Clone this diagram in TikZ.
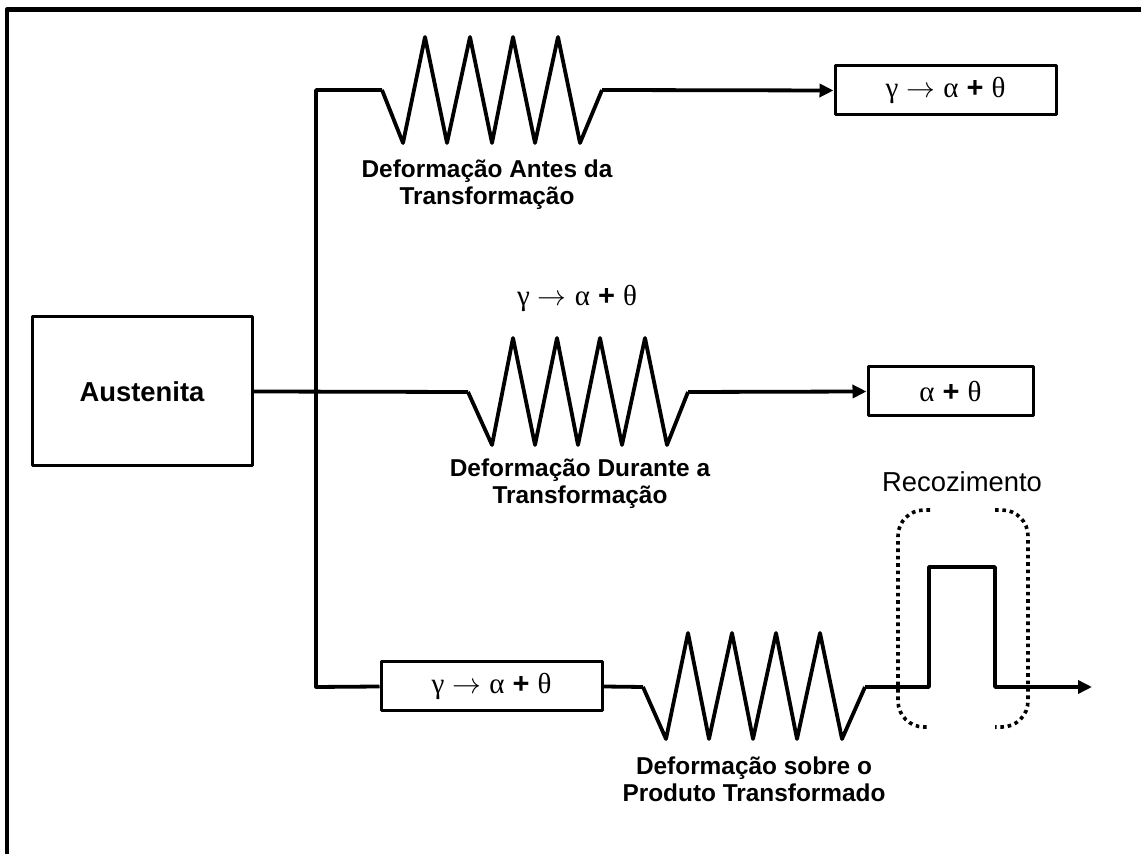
\documentclass[tikz,border=0pt]{standalone}
\usepackage{fontspec}
\setmainfont{Liberation Sans}
\newfontfamily\grkfont{Liberation Serif}
\usetikzlibrary{arrows.meta}
\newcommand{\reac}{{\grkfont γ} $\rightarrow$ {\grkfont α} \textbf{+} {\grkfont θ}}
\tikzset{
  wire/.style={line width=1.9pt},
  frame/.style={line width=2.2pt},
  dots/.style={line width=1.8pt, dash pattern=on 1.8pt off 1.9pt, rounded corners=13pt},
  tbox/.style={draw, line width=1.5pt, minimum height=24.5pt, inner sep=0pt, font=\fontsize{14.5}{16}\selectfont},
  lbl/.style={font=\fontsize{12.2}{13.5}\selectfont\bfseries, align=center, inner sep=0pt},
}
\begin{document}
\begin{tikzpicture}[x=0.5pt, y=-0.5pt, line join=round, >={Triangle[length=7pt,width=6.5pt]}]
    \useasboundingbox (0,0) rectangle (1141,854);
    \draw[frame] (7,854) -- (7,9.5) -- (1141,9.5);
    % caixas
    \node[draw, line width=1.5pt, minimum width=110pt, minimum height=74.5pt,
          font=\fontsize{13.7}{16}\selectfont\bfseries] (aus) at (142,391.5) {Austenita};
    \node[tbox, minimum width=110.5pt] (topbox) at (945.5,90.5) {\reac};
    \node[tbox, minimum width=82.5pt] (midbox) at (950.5,391.5) {{\grkfont α} \textbf{+} {\grkfont θ}};
    \node[tbox, minimum width=110.5pt] (lowbox) at (491.5,686.5) {\reac};
    % textos
    \node[lbl] (toplbl) at (487,184.5) {Deformação Antes da\\Transformação};
    \node[lbl] (midlbl) at (580,484) {Deformação Durante a\\Transformação};
    \node[lbl] (lowlbl) at (754,779.5) {Deformação sobre o\\Produto Transformado};
    \node[inner sep=0pt, font=\fontsize{14.5}{16}\selectfont] (midreac) at (577,298) {\reac};
    \node[inner sep=0pt, font=\fontsize{13.7}{16}\selectfont] (rec) at (962,482) {Recozimento};
    % pontos das molas
    \coordinate (tz0) at (382,90);
    \coordinate (tz1) at (602,90);
    \coordinate (mz0) at (468,392);
    \coordinate (mz1) at (688,392);
    \coordinate (lz0) at (643,687);
    \coordinate (lz1) at (865,687);
    \coordinate (tip) at (1092,687);
    % ramo superior
    \draw[wire] (lowbox.west) -- (316,687) -- (316,90) -- (tz0);
    \draw[wire] (tz0) -- (403,143) -- (425,37) -- (447,143) -- (470,37) -- (492,143)
        -- (513,37) -- (535,143) -- (558,37) -- (580,143) -- (tz1);
    \draw[wire, ->] (tz1) -- (topbox.west);
    % ramo do meio
    \draw[wire] (aus.east) -- (mz0);
    \draw[wire] (mz0) -- (492,445) -- (513,338) -- (535,445) -- (557,338) -- (578,445)
        -- (600,338) -- (622,445) -- (645,338) -- (667,445) -- (mz1);
    \draw[wire, ->] (mz1) -- (midbox.west);
    % ramo inferior
    \draw[wire] (lowbox.east) -- (lz0);
    \draw[wire] (lz0) -- (666,739) -- (688,633) -- (709,739) -- (732,633) -- (753,739)
        -- (776,633) -- (797,739) -- (820,633) -- (842,739) -- (lz1);
    \draw[wire, ->] (lz1) -- (929,687) -- (929,567) -- (995,567) -- (995,687) -- (tip);
    % recozimento
    \draw[dots] (930,510) -- (898,510) -- (898,727) -- (930,727);
    \draw[dots] (995,510) -- (1028,510) -- (1028,727) -- (995,727);
\end{tikzpicture}
\end{document}
